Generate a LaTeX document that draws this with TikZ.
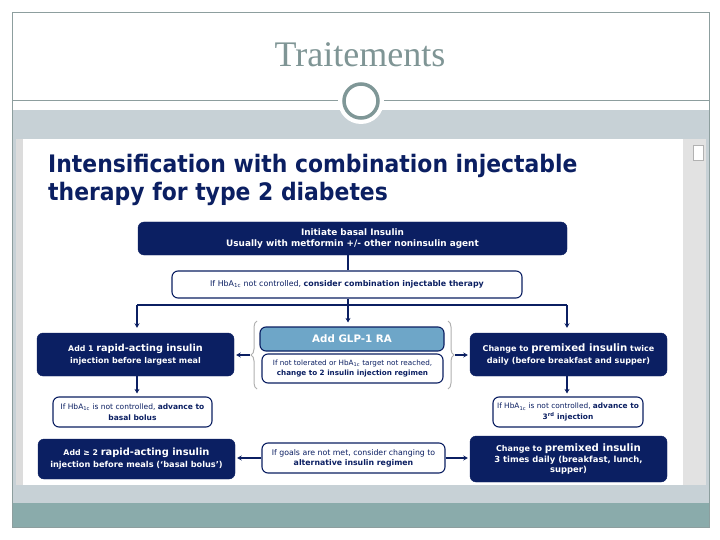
\documentclass[tikz,border=0pt]{standalone}
\usepackage{fontspec}
\setmainfont{DejaVu Sans}
\newfontfamily\slidefont{Liberation Serif}
\usetikzlibrary{arrows.meta,decorations.pathreplacing,calc}
\definecolor{navy}{HTML}{0B1F62}
\definecolor{glpblue}{HTML}{6EA6C8}
\definecolor{braceg}{HTML}{B0B0B0}
\definecolor{framegray}{HTML}{8D9E9E}
\definecolor{bandgray}{HTML}{C7D1D6}
\definecolor{tealband}{HTML}{8AABAB}
\definecolor{stripgray}{HTML}{DCDCDC}
\definecolor{scrollgray}{HTML}{E2E2E2}
\definecolor{ringcol}{HTML}{7F9797}
\definecolor{titlecol}{HTML}{7F9595}
\newcommand\fsz[1]{\fontsize{#1}{#1}\selectfont}
\tikzset{
  navybox/.style={fill=navy, draw=navy, rounded corners=6pt, text=white, align=center, inner sep=0pt},
  whitebox/.style={fill=white, draw=navy, line width=1.1pt, rounded corners=6pt, text=navy, align=center, inner sep=0pt},
  glpbox/.style={fill=glpblue, draw=navy, line width=1.1pt, rounded corners=6pt, text=white, align=center, inner sep=0pt},
  conn/.style={draw=navy, line width=1.2pt},
  arr/.style={conn, -{Stealth[length=4.5pt,width=5pt]}},
  bracestyle/.style={draw=braceg, line width=1pt, decorate, decoration={brace, amplitude=6pt}},
  headline/.style={anchor=base west, inner sep=0pt, text=navy, font=\fontsize{21.9}{26}\selectfont\bfseries}
}
\begin{document}
\begin{tikzpicture}[x=1pt,y=-1pt]
\useasboundingbox (0,0) rectangle (720,540);
\fill[white] (0,0) rectangle (720,540);
% slide background
\fill[bandgray] (12,110) rectangle (709,503);
\fill[tealband] (12,503) rectangle (709,527);
\draw[framegray, line width=0.8pt] (12,12) rectangle (709,527);
\fill[stripgray] (16,139) rectangle (23,485);
\fill[white] (23,139) rectangle (683,485);
\fill[scrollgray] (683,139) rectangle (706,485);
\draw[gray!60, fill=white, line width=0.6pt] (693,145) rectangle (703,160);
\draw[framegray, line width=0.8pt] (12,100) -- (709,100);
\fill[white] (361,101) circle (23);
\draw[ringcol, line width=3.5pt] (361,101) circle (17);
\node[anchor=base, inner sep=0pt, text=titlecol, font=\slidefont\fontsize{36}{40}\selectfont] (title) at (360,67) {Traitements};
% heading
\node[headline] (h1) at (48,173) {\scalebox{1}[1.1]{Intensification with combination injectable}};
\node[headline] (h2) at (48,201) {\scalebox{1}[1.1]{therapy for type 2 diabetes}};
% boxes
\node[navybox, minimum width=429pt, minimum height=33pt, font=\fontsize{8.9}{10.5}\selectfont\bfseries] (b1) at (352.5,238.5)
  {Initiate basal Insulin\\Usually with metformin +/- other noninsulin agent};
\node[whitebox, minimum width=350pt, minimum height=27pt, font=\fontsize{7.9}{9}\selectfont] (b2) at (347,284.5)
  {If HbA\textsubscript{1c} not controlled, \textbf{consider combination injectable therapy}};
\node[navybox, minimum width=197pt, minimum height=43pt, font=\fontsize{8}{12}\selectfont\bfseries] (bL1) at (135.5,354.5)
  {{\fsz{7.8}Add 1 }{\fsz{9.7}rapid-acting insulin}\\{\fsz{8}injection before largest meal}};
\node[glpbox, minimum width=184pt, minimum height=24pt, font=\fontsize{10.3}{12}\selectfont\bfseries] (glp) at (352,339)
  {Add GLP-1 RA};
\node[whitebox, minimum width=181pt, minimum height=29pt, font=\fontsize{7.2}{9.5}\selectfont] (glp2) at (352.5,368.5)
  {If not tolerated or HbA\textsubscript{1c} target not reached,\\\textbf{change to 2 insulin injection regimen}};
\node[navybox, minimum width=197pt, minimum height=43pt, font=\fontsize{8}{12}\selectfont\bfseries] (bR1) at (568.5,354.5)
  {{\fsz{8}Change to }{\fsz{10.2}premixed insulin}{\fsz{8} twice}\\{\fsz{8.1}daily (before breakfast and supper)}};
\node[whitebox, minimum width=159pt, minimum height=30pt, font=\fontsize{7.5}{10.5}\selectfont] (bL2) at (132.5,412)
  {If HbA\textsubscript{1c} is not controlled, \textbf{advance to}\\\textbf{basal bolus}};
\node[whitebox, minimum width=150pt, minimum height=30pt, font=\fontsize{7.4}{10.5}\selectfont] (bR2) at (568,412)
  {If HbA\textsubscript{1c} is not controlled, \textbf{advance to}\\\textbf{3\textsuperscript{rd} injection}};
\node[navybox, minimum width=197pt, minimum height=40pt, font=\fontsize{8}{12}\selectfont\bfseries] (bL3) at (136.5,459)
  {{\fsz{7.8}Add ≥ 2 }{\fsz{9.9}rapid-acting insulin}\\{\fsz{8.2}injection before meals (‘basal bolus’)}};
\node[whitebox, minimum width=183pt, minimum height=30pt, font=\fontsize{7.8}{10}\selectfont] (bC3) at (353.5,458)
  {If goals are not met, consider changing to\\\textbf{alternative insulin regimen}};
\node[navybox, minimum width=197pt, minimum height=46pt, font=\fontsize{8.4}{10.5}\selectfont\bfseries] (bR3) at (568.5,459)
  {{\fsz{8}Change to }{\fsz{10.2}premixed insulin}\\3 times daily (breakfast, lunch,\\supper)};
% connectors
\coordinate (cx) at (348,0);
\coordinate (xl) at (137,0);
\coordinate (xr) at (567,0);
\coordinate (br) at (0,305);
\draw[conn] (b1.south -| cx) -- (b2.north -| cx);
\draw[conn] (b2.south -| cx) -- (cx |- br);
\draw[conn] (xl |- br) -- (xr |- br);
\draw[arr, shorten >=5pt] (xl |- br) -- (bL1.north -| xl);
\draw[arr, shorten >=5pt] (xr |- br) -- (bR1.north -| xr);
\draw[arr, shorten >=4pt] (cx |- br) -- (glp.north -| cx);
% braces
\coordinate (lbB) at (257,389);
\coordinate (lbT) at (257,321);
\coordinate (rbT) at (448,321);
\coordinate (rbB) at (448,389);
\draw[bracestyle] (lbB) -- (lbT);
\draw[bracestyle] (rbT) -- (rbB);
\coordinate (lbtip) at (250,355);
\coordinate (rbtip) at (455,355);
\draw[arr, shorten >=2pt] (lbtip) -- (bL1.east |- lbtip);
\draw[arr, shorten >=2pt] (rbtip) -- (bR1.west |- rbtip);
% lower arrows
\draw[arr, shorten >=3pt] (bL1.south -| xl) -- (bL2.north -| xl);
\draw[arr, shorten >=3pt] (bR1.south -| xr) -- (bR2.north -| xr);
\draw[arr, shorten >=2pt] (bC3.west) -- (bL3.east |- bC3.west);
\draw[arr, shorten >=2pt] (bC3.east) -- (bR3.west |- bC3.east);
\end{tikzpicture}
\end{document}
